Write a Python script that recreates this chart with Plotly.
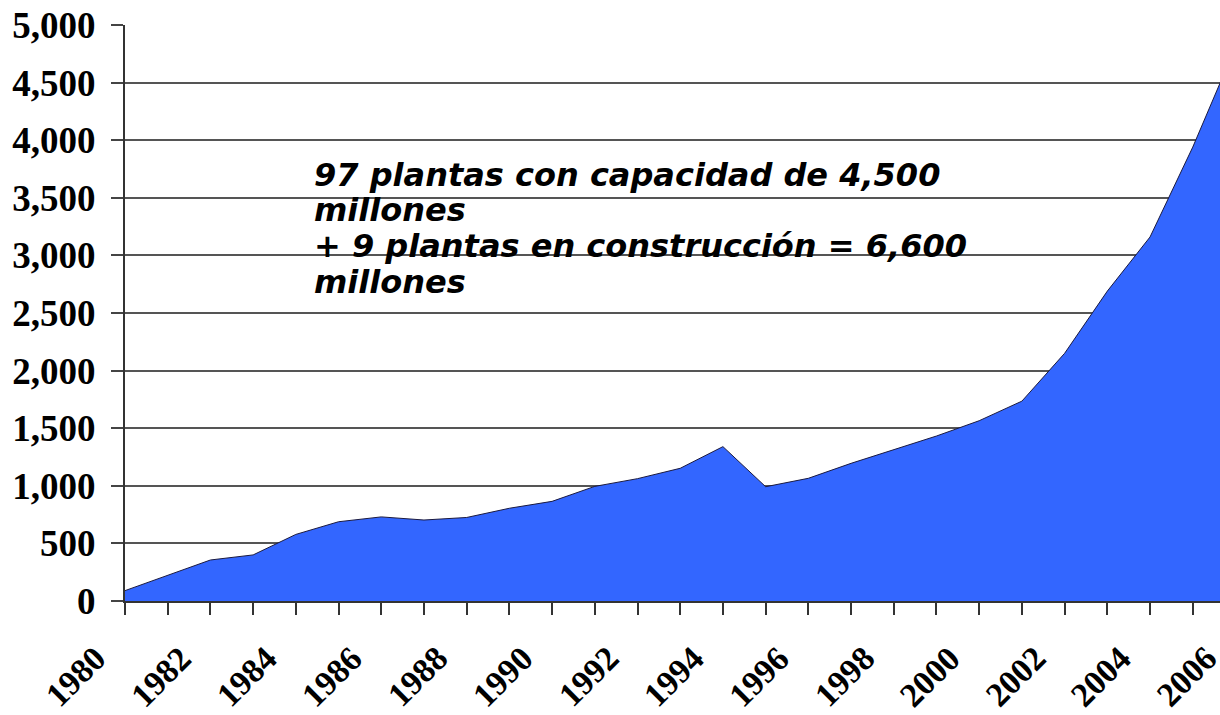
import plotly.graph_objects as go

# ---- data ----
years = list(range(1980, 2007))
capacity = [90, 223, 356, 400, 578, 688, 730, 703, 725, 805, 865, 995, 1062,
            1152, 1340, 992, 1065, 1195, 1311, 1432, 1565, 1735, 2150, 2690,
            3160, 3940, 4810]
y_ticks = list(range(0, 5001, 500))
x_label_years = [y for y in years if y % 2 == 0]
note_lines = ["97 plantas con capacidad de 4,500",
              "millones",
              "+ 9 plantas en construcción = 6,600",
              "millones"]

W, H = 1220, 715
ML, MR, MT, MB = 125, 0, 25, 114
px_per_year = 42.71
x_start = years[0]
plot_w = W - ML - MR
plot_h = H - MT - MB
x_end = x_start + plot_w / px_per_year

tick_font = dict(family="Liberation Serif", size=37, color="black", weight="bold")
xlab_font = dict(family="Liberation Serif", size=34, color="black", weight="bold")

fig = go.Figure()
fig.add_trace(go.Scatter(
    x=years, y=capacity, mode="lines", fill="tozeroy",
    fillcolor="#3366FF", line=dict(color="#1a1a40", width=1),
    hoverinfo="x+y", showlegend=False,
))

fig.update_layout(
    width=W, height=H, autosize=False,
    margin=dict(l=ML, r=MR, t=MT, b=MB, autoexpand=False),
    paper_bgcolor="white", plot_bgcolor="white",
    xaxis=dict(
        range=[x_start, x_end], tickmode="array", tickvals=years,
        ticktext=["" for _ in years], automargin=False,
        ticks="outside", ticklen=12, tickwidth=2, tickcolor="#333",
        showgrid=False, zeroline=False, showline=True, linecolor="#333",
        linewidth=2,
    ),
    yaxis=dict(
        range=[0, 5000], tickmode="array", tickvals=y_ticks,
        tickformat=",d", tickfont=tick_font, automargin=False,
        ticks="outside", ticklen=12, tickwidth=2, tickcolor="#444",
        showgrid=True, gridcolor="#555", gridwidth=2,
        zeroline=False, showline=True, linecolor="#333", linewidth=2,
        ticklabelstandoff=8,
    ),
)

# rotated year labels (every second year), placed like the reference
for yr in x_label_years:
    fig.add_annotation(
        text=str(yr), xref="paper", yref="paper",
        x=(yr - x_start) / (x_end - x_start), y=-(637 - (H - MB)) / plot_h,
        xanchor="right", yanchor="top", textangle=-45, showarrow=False,
        xshift=-9, font=xlab_font,
    )

# note text, one annotation per line for tight line spacing
line_centers_px = [175, 210, 246, 282]
for txt, cy in zip(note_lines, line_centers_px):
    fig.add_annotation(
        text=txt, xref="paper", yref="paper",
        x=(312 - ML) / plot_w, y=1 - (cy - MT) / plot_h,
        xanchor="left", yanchor="middle", showarrow=False,
        font=dict(family="DejaVu Sans", size=32, color="black",
                  weight="bold", style="italic"),
    )

fig.write_html(
    "out.html",
    config={"displayModeBar": False},
    post_script="document.body.style.margin='0';"
                "document.body.style.overflow='hidden';",
)
